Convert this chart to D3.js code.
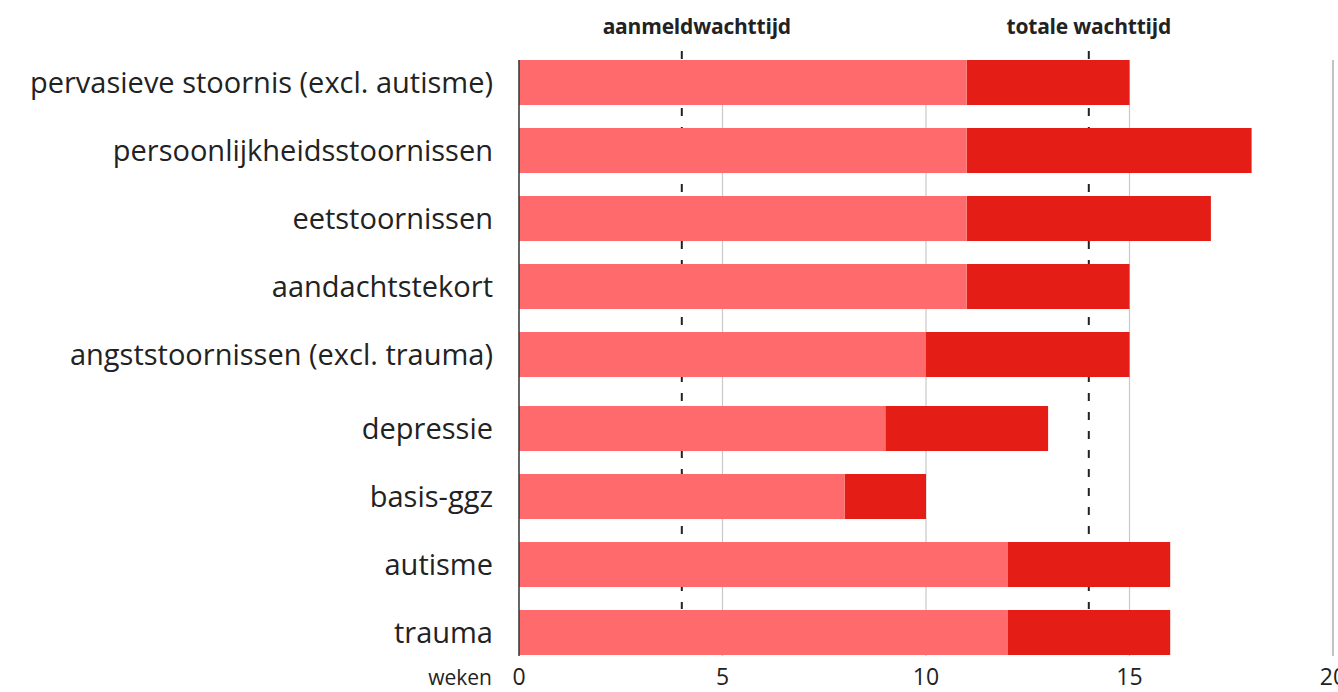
<!DOCTYPE html>
<html>
<head>
<meta charset="utf-8">
<script src="https://cdn.jsdelivr.net/npm/d3@7"></script>
<style>
  body { margin: 0; background: #fff; overflow: hidden; }
  svg { display: block; }
  text { font-family: "Open Sans", "Noto Sans", sans-serif; fill: #222; }
</style>
</head>
<body>
<svg id="chart"></svg>
<script>
(function () {
  'use strict';

  // categories top to bottom
  const categories = [
    "pervasieve stoornis (excl. autisme)",
    "persoonlijkheidsstoornissen",
    "eetstoornissen",
    "aandachtstekort",
    "angststoornissen (excl. trauma)",
    "depressie",
    "basis-ggz",
    "autisme",
    "trauma"
  ];
  // weeks
  const aanmeld = [11, 11, 11, 11, 10, 9, 8, 12, 12];
  const totaal = [15, 18, 17, 15, 15, 13, 10, 16, 16];
  const xTicks = [0, 5, 10, 15, 20];
  // average lines
  const averages = [
    { label: "aanmeldwachttijd", value: 4, dx: 15 },
    { label: "totale wachttijd", value: 14, dx: 0 }
  ];

  const width = 1338, height = 692;
  const margin = { top: 60, left: 519 };

  const svg = d3.select("#chart")
    .attr("width", width)
    .attr("height", height);

  const x = d3.scaleLinear()
    .domain([0, 20])
    .range([margin.left, 1333]);

  const step = 68, barH = 45;
  const y = d3.scaleBand()
    .domain(categories)
    .range([margin.top, margin.top + step * categories.length - (step - barH)])
    .paddingInner((step - barH) / step)
    .paddingOuter(0);
  // small extra gap before the second group
  const yPos = (d, i) => y(d) + (i >= 5 ? 6 : 0);
  const bottom = 656;

  // grid
  svg.append("g")
    .selectAll("line")
    .data(xTicks.filter(t => t > 0))
    .join("line")
    .attr("x1", d => x(d)).attr("x2", d => x(d))
    .attr("y1", margin.top).attr("y2", bottom)
    .attr("stroke", d => d === 20 ? "#999" : "#c8c8c8")
    .attr("stroke-width", 1.2);

  // dashed average lines
  svg.append("g")
    .selectAll("line")
    .data(averages)
    .join("line")
    .attr("x1", d => x(d.value)).attr("x2", d => x(d.value))
    .attr("y1", 51).attr("y2", 609)
    .attr("stroke", "#222")
    .attr("stroke-width", 2)
    .attr("stroke-dasharray", "8,11");

  svg.append("g")
    .selectAll("text")
    .data(averages)
    .join("text")
    .attr("x", d => x(d.value) + d.dx)
    .attr("y", 34)
    .attr("text-anchor", "middle")
    .attr("font-size", 21)
    .attr("font-weight", "bold")
    .attr("letter-spacing", -0.2)
    .text(d => d.label);

  // bars
  const rows = svg.append("g")
    .selectAll("g")
    .data(categories)
    .join("g");

  rows.append("rect")
    .attr("x", (d, i) => x(aanmeld[i]))
    .attr("y", (d, i) => yPos(d, i))
    .attr("width", (d, i) => x(totaal[i]) - x(aanmeld[i]))
    .attr("height", y.bandwidth())
    .attr("fill", "#e41e16");

  rows.append("rect")
    .attr("x", x(0))
    .attr("y", (d, i) => yPos(d, i))
    .attr("width", (d, i) => x(aanmeld[i]) - x(0))
    .attr("height", y.bandwidth())
    .attr("fill", "#ff6b6d");

  rows.append("text")
    .attr("x", 493)
    .attr("y", (d, i) => yPos(d, i) + y.bandwidth() / 2)
    .attr("dy", "0.35em")
    .attr("text-anchor", "end")
    .attr("font-size", 29)
    .text(d => d);

  // zero axis line
  svg.append("line")
    .attr("x1", x(0)).attr("x2", x(0))
    .attr("y1", margin.top).attr("y2", bottom)
    .attr("stroke", "#333")
    .attr("stroke-width", 1.5);

  // x tick labels
  svg.append("g")
    .selectAll("text")
    .data(xTicks)
    .join("text")
    .attr("x", d => x(d))
    .attr("y", 685)
    .attr("text-anchor", "middle")
    .attr("font-size", 23)
    .text(d => d);

  svg.append("text")
    .attr("x", 492)
    .attr("y", 685)
    .attr("text-anchor", "end")
    .attr("font-size", 21)
    .text("weken");
})();
</script>
</body>
</html>
